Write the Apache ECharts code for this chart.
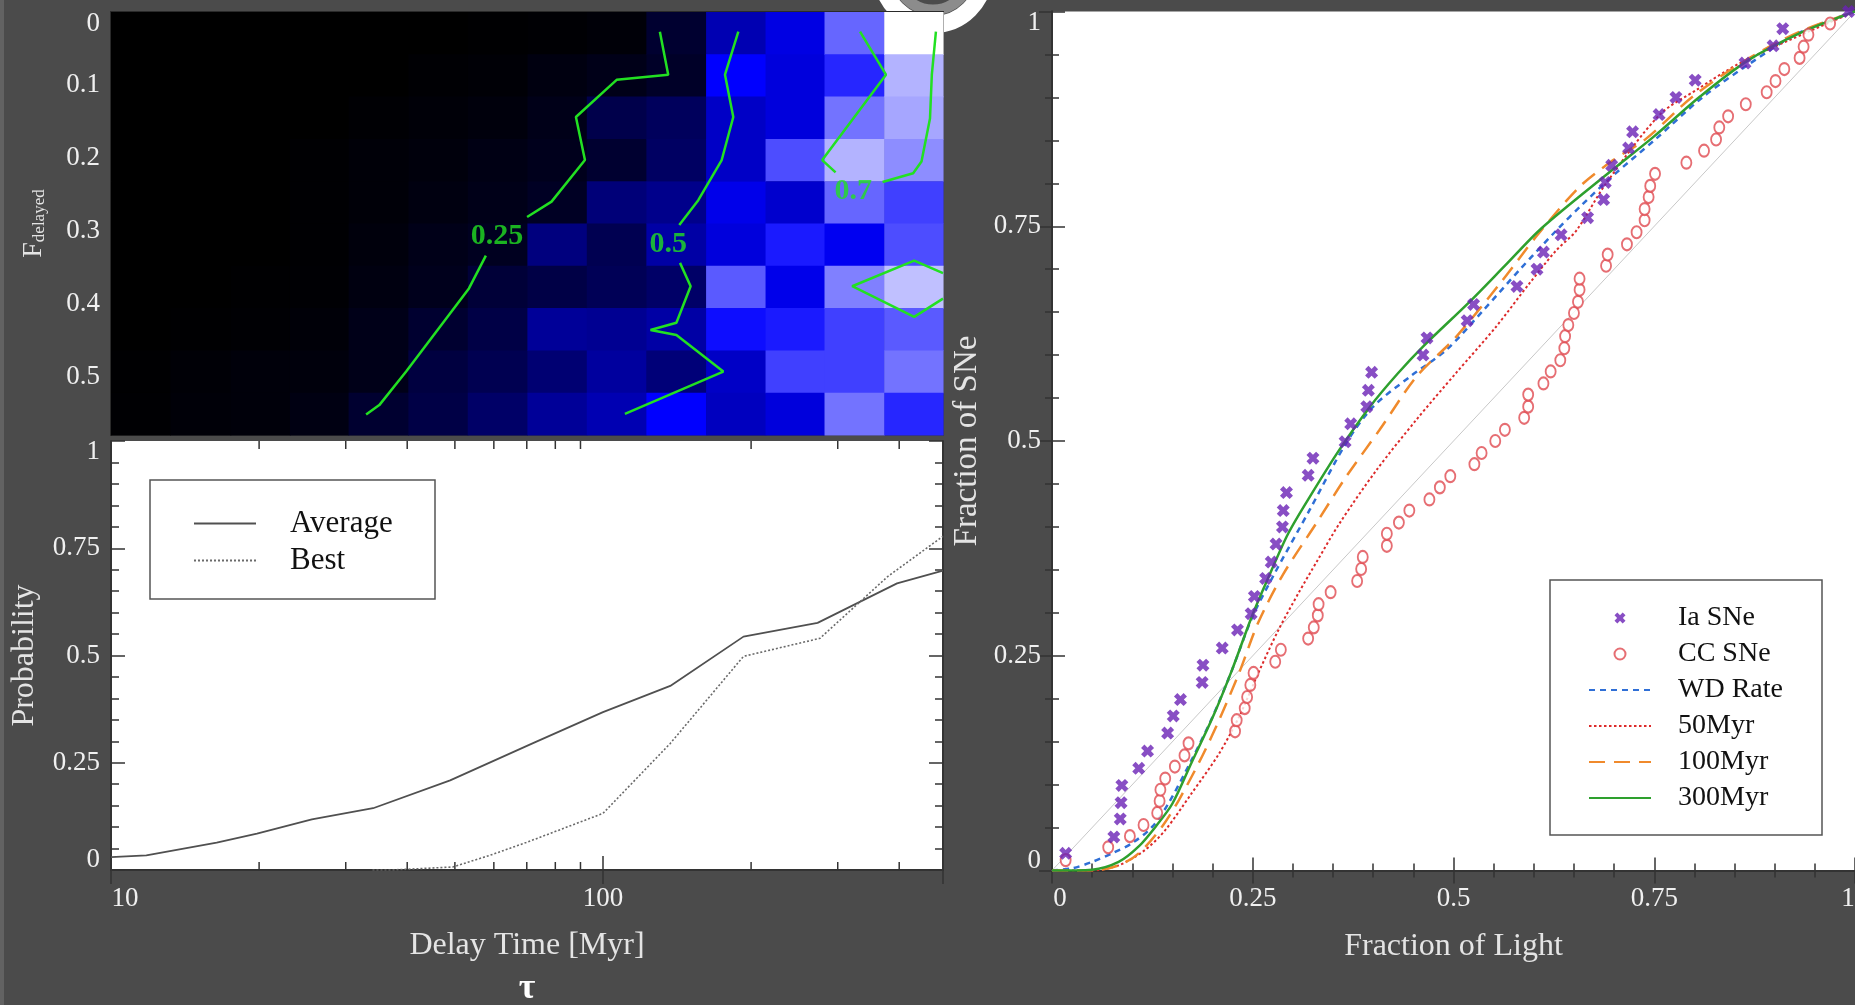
<!DOCTYPE html>
<html>
<head>
<meta charset="utf-8">
<script src="https://cdn.jsdelivr.net/npm/echarts@6/dist/echarts.min.js"></script>
<style>
html, body { margin: 0; padding: 0; background: #4b4b4b; }
#chart { width: 1855px; height: 1005px; }
</style>
</head>
<body>
<div id="chart"></div>
<script>
// ---- heatmap (delay time vs delayed fraction) ----
var tauEdges = [10, 13.2, 17.5, 23.1, 30.4, 40.2, 53.1, 70.2, 92.7, 122.5, 162, 214, 282, 373, 491];
var fEdges = [0, 0.058, 0.116, 0.174, 0.232, 0.29, 0.348, 0.406, 0.464, 0.522, 0.58];
// one array per tau column, rows from F=0 (top) downwards
var cellValues = [
  [0, 0, 0, 0, 0, 0, 0, 0, 0.05, 0.07],
  [0, 0, 0, 0, 0, 0, 0, 0.05, 0.11, 0.12],
  [0, 0, 0, 0, 0, 0, 0.05, 0.10, 0.13, 0.13],
  [0, 0, 0, 0.07, 0.07, 0.07, 0.10, 0.12, 0.14, 0.17],
  [0, 0, 0.10, 0.12, 0.12, 0.14, 0.16, 0.20, 0.20, 0.26],
  [0, 0.10, 0.12, 0.14, 0.16, 0.20, 0.21, 0.26, 0.30, 0.31],
  [0.05, 0.11, 0.14, 0.18, 0.20, 0.22, 0.28, 0.31, 0.33, 0.37],
  [0.10, 0.16, 0.20, 0.21, 0.23, 0.41, 0.31, 0.45, 0.39, 0.45],
  [0.12, 0.20, 0.32, 0.26, 0.40, 0.33, 0.34, 0.44, 0.46, 0.49],
  [0.26, 0.24, 0.35, 0.36, 0.43, 0.47, 0.37, 0.47, 0.40, 0.60],
  [0.49, 0.60, 0.52, 0.52, 0.57, 0.55, 0.67, 0.61, 0.52, 0.51],
  [0.56, 0.55, 0.55, 0.66, 0.53, 0.62, 0.57, 0.62, 0.65, 0.55],
  [0.68, 0.63, 0.69, 0.74, 0.68, 0.58, 0.70, 0.65, 0.65, 0.69],
  [0.80, 0.74, 0.73, 0.71, 0.65, 0.66, 0.75, 0.67, 0.69, 0.63]
];
var fTicks = [0, 0.1, 0.2, 0.3, 0.4, 0.5];

// contour pieces [tau, F]
var contour25 = [
  [[130.5, 0.027], [135.7, 0.086], [106.6, 0.093], [88.1, 0.144], [91.9, 0.203], [78.6, 0.260], [70.1, 0.281]],
  [[57.8, 0.334], [53.4, 0.379], [39.8, 0.493], [35.1, 0.539], [33.0, 0.552]]
];
var contour50 = [
  [[188.4, 0.027], [177.0, 0.086], [184.0, 0.144], [174.3, 0.203], [156.2, 0.258], [142.9, 0.292]],
  [[143.4, 0.344], [150.7, 0.376], [141.0, 0.426], [124.9, 0.436], [141.0, 0.443], [175.6, 0.493], [110.8, 0.551]]
];
var contour70 = [
  [[333, 0.027], [376, 0.086], [279, 0.203], [297, 0.220]],
  [[370, 0.233], [427, 0.221], [444, 0.205], [462, 0.146], [466, 0.086], [475, 0.027]],
  [[491, 0.358], [429, 0.341], [321, 0.376], [429, 0.418], [491, 0.393]]
];
var contourLabels = [['0.25', 60.9, 0.308], ['0.5', 135.7, 0.319], ['0.7', 322.7, 0.246]];

// ---- probability vs delay time ----
var averageProb = [[10, 0.03], [11.8, 0.034], [16.4, 0.064], [19.8, 0.085], [25.6, 0.118], [34.1, 0.144],
  [48.9, 0.209], [71.9, 0.295], [100, 0.368], [137, 0.429], [193, 0.544], [273, 0.576], [396, 0.668], [491, 0.698]];
var bestProb = [[34, 0], [37.2, 0], [49.5, 0.007], [58.8, 0.034], [69.8, 0.064], [100, 0.132], [137, 0.295],
  [193, 0.498], [276, 0.54], [379, 0.684], [491, 0.778]];
var minorTau = [20, 30, 40, 50, 60, 70, 80, 90, 200, 300, 400];

// ---- cumulative fraction of SNe vs fraction of light ----
var iaX = [0.017, 0.077, 0.085, 0.086, 0.087, 0.108, 0.119, 0.144, 0.151, 0.160, 0.187, 0.188, 0.212, 0.231, 0.248,
  0.252, 0.266, 0.273, 0.279, 0.287, 0.288, 0.292, 0.319, 0.325, 0.365, 0.372, 0.392, 0.394, 0.398, 0.462,
  0.467, 0.517, 0.525, 0.579, 0.604, 0.612, 0.634, 0.667, 0.687, 0.689, 0.697, 0.718, 0.723, 0.756, 0.777,
  0.801, 0.863, 0.898, 0.910, 0.992];
var iaY = [0.020, 0.039, 0.060, 0.079, 0.099, 0.119, 0.139, 0.160, 0.180, 0.199, 0.219, 0.239, 0.259, 0.280, 0.299,
  0.319, 0.340, 0.359, 0.380, 0.400, 0.419, 0.440, 0.460, 0.480, 0.499, 0.520, 0.540, 0.559, 0.580, 0.600,
  0.620, 0.640, 0.659, 0.680, 0.700, 0.720, 0.740, 0.760, 0.781, 0.801, 0.821, 0.841, 0.860, 0.880, 0.900,
  0.920, 0.940, 0.960, 0.980, 1.000];
var ccX = [0.017, 0.070, 0.097, 0.114, 0.131, 0.134, 0.135, 0.141, 0.153, 0.165, 0.170, 0.228, 0.230, 0.240, 0.243,
  0.247, 0.251, 0.278, 0.285, 0.319, 0.326, 0.331, 0.332, 0.347, 0.380, 0.385, 0.387, 0.417, 0.417, 0.432,
  0.445, 0.470, 0.483, 0.496, 0.526, 0.535, 0.552, 0.564, 0.588, 0.593, 0.593, 0.612, 0.621, 0.633, 0.638,
  0.639, 0.643, 0.650, 0.655, 0.657, 0.657, 0.690, 0.692, 0.716, 0.728, 0.738, 0.738, 0.743, 0.745, 0.751,
  0.790, 0.812, 0.827, 0.831, 0.842, 0.864, 0.890, 0.901, 0.912, 0.931, 0.936, 0.942, 0.969];
var ccY = [0.012, 0.027, 0.040, 0.053, 0.067, 0.081, 0.094, 0.107, 0.121, 0.134, 0.148, 0.162, 0.175, 0.189, 0.202,
  0.216, 0.230, 0.243, 0.257, 0.270, 0.283, 0.297, 0.310, 0.324, 0.337, 0.351, 0.365, 0.378, 0.392, 0.405,
  0.419, 0.432, 0.446, 0.459, 0.473, 0.486, 0.500, 0.513, 0.527, 0.540, 0.554, 0.567, 0.581, 0.594, 0.608,
  0.622, 0.635, 0.649, 0.662, 0.676, 0.689, 0.704, 0.717, 0.729, 0.743, 0.757, 0.770, 0.784, 0.797, 0.811,
  0.824, 0.838, 0.851, 0.865, 0.878, 0.892, 0.906, 0.919, 0.933, 0.946, 0.959, 0.973, 0.986];
var wdRate = [[0, 0], [0.025, 0.0025], [0.05, 0.01], [0.075, 0.02], [0.1, 0.032], [0.125, 0.051], [0.145, 0.078],
  [0.174, 0.129], [0.2, 0.179], [0.224, 0.233], [0.249, 0.294], [0.275, 0.342], [0.321, 0.42], [0.366, 0.497],
  [0.4, 0.54], [0.446, 0.575], [0.491, 0.606], [0.537, 0.652], [0.583, 0.7], [0.628, 0.745], [0.66, 0.775],
  [0.7, 0.81], [0.75, 0.85], [0.81, 0.9], [0.87, 0.94], [0.93, 0.975], [1, 1]];
var myr50 = [[0, 0], [0.05, 0], [0.083, 0.006], [0.116, 0.024], [0.141, 0.047], [0.174, 0.09], [0.208, 0.136],
  [0.233, 0.179], [0.257, 0.23], [0.282, 0.28], [0.307, 0.323], [0.33, 0.36], [0.358, 0.404], [0.404, 0.466],
  [0.454, 0.525], [0.503, 0.579], [0.553, 0.633], [0.595, 0.684], [0.628, 0.722], [0.653, 0.745], [0.69, 0.8],
  [0.757, 0.88], [0.803, 0.909], [0.857, 0.94], [0.948, 0.979], [1, 1]];
var myr100 = [[0, 0], [0.05, 0], [0.083, 0.006], [0.108, 0.02], [0.137, 0.051], [0.158, 0.082], [0.187, 0.133],
  [0.208, 0.175], [0.233, 0.23], [0.257, 0.289], [0.288, 0.345], [0.329, 0.404], [0.366, 0.458], [0.408, 0.513],
  [0.454, 0.575], [0.503, 0.621], [0.561, 0.687], [0.603, 0.738], [0.657, 0.796], [0.699, 0.827], [0.74, 0.852],
  [0.798, 0.901], [0.865, 0.944], [0.93, 0.976], [1, 1]];
var myr300 = [[0, 0], [0.05, 0.001], [0.083, 0.01], [0.108, 0.028], [0.129, 0.051], [0.15, 0.078], [0.174, 0.126],
  [0.2, 0.178], [0.224, 0.233], [0.249, 0.296], [0.269, 0.34], [0.294, 0.392], [0.321, 0.435], [0.358, 0.49],
  [0.396, 0.54], [0.43, 0.578], [0.462, 0.61], [0.52, 0.662], [0.565, 0.705], [0.61, 0.748], [0.693, 0.812],
  [0.749, 0.854], [0.807, 0.901], [0.865, 0.942], [0.932, 0.975], [1, 1]];
var diagonal = [[0, 0], [1, 1]];

var FONT = "'Liberation Serif', 'DejaVu Serif', serif";
var AX = '#333333';
var LBL = '#f0f0f0';
var TTL = '#e4e4e4';
var GREEN = '#22e022';
var XMARK = 'path://M0,2.6L2.6,0L5,2.4L7.4,0L10,2.6L7.6,5L10,7.4L7.4,10L5,7.6L2.6,10L0,7.4L2.4,5Z';

var chart = echarts.init(document.getElementById('chart'));

// heatmap cells: [tau0, tau1, f0, f1, value]
var cells = [];
for (var c = 0; c < cellValues.length; c++) {
  for (var r = 0; r < cellValues[c].length; r++) {
    cells.push([tauEdges[c], tauEdges[c + 1], fEdges[r], fEdges[r + 1], cellValues[c][r]]);
  }
}

function tk(size) { return { fontFamily: FONT, fontSize: size || 27, color: LBL }; }
function rt(pad) { var s = tk(); s.padding = pad; return s; }

var tickLine = { color: AX, width: 1.5 };
var frameLine = { show: true, lineStyle: { color: AX, width: 2 } };

function valueAxis(grid, pos, showLabel, fmt) {
  return {
    type: 'value', gridIndex: grid, position: pos, min: 0, max: 1, interval: 0.25,
    axisLine: frameLine,
    axisTick: { show: true, inside: true, length: 13, lineStyle: tickLine },
    minorTick: { show: true, splitNumber: 5, length: 7, lineStyle: tickLine },
    splitLine: { show: false }, minorSplitLine: { show: false },
    axisLabel: showLabel ? { show: true, margin: 12, formatter: fmt,
      rich: { n: tk(), a: rt([22, 0, 0, 0]), b: rt([0, 0, 20, 0]), l: rt([0, 0, 0, 16]), r: rt([0, 14, 0, 0]) } } : { show: false }
  };
}

var series = [];
series.push({
  type: 'custom', xAxisIndex: 0, yAxisIndex: 0, data: cells, encode: { x: [0, 1], y: [2, 3] }, silent: true,
  renderItem: function (params, api) {
    var p0 = api.coord([api.value(0), api.value(2)]);
    var p1 = api.coord([api.value(1), api.value(3)]);
    return {
      type: 'rect',
      shape: { x: Math.min(p0[0], p1[0]), y: Math.min(p0[1], p1[1]),
        width: Math.abs(p1[0] - p0[0]) + 0.6, height: Math.abs(p1[1] - p0[1]) + 0.6 },
      style: { fill: api.visual('color') }
    };
  }
});
[contour25, contour50, contour70].forEach(function (pieces) {
  pieces.forEach(function (seg) {
    series.push({ type: 'line', xAxisIndex: 0, yAxisIndex: 0, data: seg, symbol: 'none', silent: true, z: 4,
      lineStyle: { color: GREEN, width: 2.5 } });
  });
});
series.push({
  type: 'scatter', xAxisIndex: 0, yAxisIndex: 0, symbolSize: 1, silent: true, z: 5,
  itemStyle: { color: 'rgba(0,0,0,0)' },
  data: contourLabels.map(function (d) { return { value: [d[1], d[2]], name: d[0] }; }),
  label: { show: true, position: 'inside', formatter: '{b}', color: GREEN, fontFamily: FONT,
    fontSize: 30, fontWeight: 'bold' }
});

// probability panel
series.push({ name: 'Average', type: 'line', xAxisIndex: 1, yAxisIndex: 1, data: averageProb, symbol: 'none',
  lineStyle: { color: '#505050', width: 1.8 }, itemStyle: { color: '#505050' } });
series.push({ name: 'Best', type: 'line', xAxisIndex: 1, yAxisIndex: 1, data: bestProb, symbol: 'none',
  lineStyle: { color: '#6a6a6a', width: 1.6, type: [2, 2] }, itemStyle: { color: '#6a6a6a' } });
series.push({
  type: 'custom', xAxisIndex: 1, yAxisIndex: 1, silent: true, clip: false, z: 6,
  data: minorTau.map(function (v) { return [v, 0]; }), encode: { x: 0, y: 1 },
  renderItem: function (params, api) {
    var b = api.coord([api.value(0), 0]);
    var t = api.coord([api.value(0), 1]);
    return { type: 'group', children: [
      { type: 'line', shape: { x1: b[0], y1: b[1], x2: b[0], y2: b[1] - 8 }, style: { stroke: AX, lineWidth: 1.5 } },
      { type: 'line', shape: { x1: t[0], y1: t[1], x2: t[0], y2: t[1] + 8 }, style: { stroke: AX, lineWidth: 1.5 } }
    ] };
  }
});

// SN panel
series.push({ type: 'line', xAxisIndex: 3, yAxisIndex: 3, data: diagonal, symbol: 'none', silent: true,
  lineStyle: { color: '#c8c8c8', width: 1 } });
series.push({ name: 'WD Rate', type: 'line', xAxisIndex: 3, yAxisIndex: 3, data: wdRate, symbol: 'none', smooth: 0.3,
  lineStyle: { color: '#2f6fd6', width: 2.5, type: [6, 5] }, itemStyle: { color: '#2f6fd6' } });
series.push({ name: '50Myr', type: 'line', xAxisIndex: 3, yAxisIndex: 3, data: myr50, symbol: 'none', smooth: 0.3,
  lineStyle: { color: '#dd2a2a', width: 2, type: [2.5, 2.5] }, itemStyle: { color: '#dd2a2a' } });
series.push({ name: '100Myr', type: 'line', xAxisIndex: 3, yAxisIndex: 3, data: myr100, symbol: 'none', smooth: 0.3,
  lineStyle: { color: '#f08a2c', width: 2.5, type: [16, 9] }, itemStyle: { color: '#f08a2c' } });
series.push({ name: '300Myr', type: 'line', xAxisIndex: 3, yAxisIndex: 3, data: myr300, symbol: 'none', smooth: 0.3,
  lineStyle: { color: '#2ea02e', width: 2.5 }, itemStyle: { color: '#2ea02e' } });
series.push({ name: 'CC SNe', type: 'scatter', xAxisIndex: 3, yAxisIndex: 3, symbol: 'emptyCircle', symbolSize: [10, 12],
  data: ccX.map(function (x, i) { return [x, ccY[i]]; }),
  itemStyle: { color: '#e04a50', borderWidth: 1.3 }, z: 6 });
series.push({ name: 'Ia SNe', type: 'scatter', xAxisIndex: 3, yAxisIndex: 3, symbol: XMARK, symbolSize: 13,
  data: iaX.map(function (x, i) { return [x, iaY[i]]; }),
  itemStyle: { color: '#6a22b5' }, z: 7 });

var hideDot = { opacity: 0 };

var option = {
  backgroundColor: '#4b4b4b',
  animation: false,
  grid: [
    { left: 111, top: 12, width: 832, height: 423, outerBoundsMode: 'none', show: true, backgroundColor: '#000', borderColor: '#3a3a3a', borderWidth: 2 },
    { left: 111, top: 441, width: 832, height: 429, outerBoundsMode: 'none', show: true, backgroundColor: '#fff', borderWidth: 0 },
    { left: 1052, top: 11.5, width: 803, height: 859, outerBoundsMode: 'none', show: true, backgroundColor: '#fff', borderWidth: 0 }
  ],
  visualMap: {
    type: 'continuous', show: false, seriesIndex: 0, dimension: 4, min: 0, max: 0.8,
    inRange: { color: ['#000000', '#000004', '#000018', '#000040', '#000078', '#0000b8', '#0000ff', '#8080ff', '#ffffff'] }
  },
  xAxis: [
    { type: 'log', gridIndex: 0, min: 10, max: 491, axisLine: { show: true, lineStyle: { color: '#2a2a2a', width: 2 } },
      axisTick: { show: false }, axisLabel: { show: false }, splitLine: { show: false } },
    { type: 'log', gridIndex: 1, position: 'bottom', min: 10, max: 491, axisLine: frameLine,
      axisTick: { show: true, inside: true, length: 14, lineStyle: tickLine }, splitLine: { show: false },
      axisLabel: { margin: 15, showMaxLabel: false,
        formatter: function (v) { return Math.round(v) === 10 ? '{l|10}' : '{n|' + Math.round(v) + '}'; },
        rich: { n: tk(), l: rt([0, 0, 0, 28]) } },
      name: '{a|Delay Time [Myr]}\n{b|τ}', nameLocation: 'middle', nameGap: 58,
      nameTextStyle: { rich: {
        a: { fontFamily: FONT, fontSize: 32, lineHeight: 36, color: TTL },
        b: { fontFamily: FONT, fontSize: 36, fontWeight: 'bold', lineHeight: 50, color: '#ffffff' } } } },
    { type: 'log', gridIndex: 1, position: 'top', min: 10, max: 491, axisLine: frameLine,
      axisTick: { show: true, inside: true, length: 14, lineStyle: tickLine }, axisLabel: { show: false }, splitLine: { show: false } },
    (function () {
      var a = valueAxis(2, 'bottom', true, function (v) { return v === 0 ? '{l|0}' : (v === 1 ? '{r|1}' : '{n|' + v + '}'); });
      a.axisLabel.margin = 15;
      a.name = '{a|Fraction of Light}'; a.nameLocation = 'middle'; a.nameGap = 58;
      a.nameTextStyle = { rich: { a: { fontFamily: FONT, fontSize: 32, lineHeight: 36, color: TTL } } };
      return a;
    })(),
    valueAxis(2, 'top', false)
  ],
  yAxis: [
    { type: 'value', gridIndex: 0, min: 0, max: 0.58, inverse: true,
      axisLine: { show: true, lineStyle: { color: '#2a2a2a', width: 2 } }, axisTick: { show: false }, splitLine: { show: false },
      axisLabel: { margin: 11, customValues: fTicks,
        formatter: function (v) { return v === 0 ? '{a|0}' : '{n|' + v + '}'; },
        rich: { n: tk(), a: rt([24, 0, 0, 0]) } },
      name: '{f|F}{d|delayed}', nameLocation: 'middle', nameRotate: 90, nameGap: 63,
      nameTextStyle: { rich: {
        f: { fontFamily: FONT, fontSize: 28, lineHeight: 32, color: TTL, verticalAlign: 'bottom' },
        d: { fontFamily: FONT, fontSize: 17, lineHeight: 32, color: TTL, verticalAlign: 'bottom' } } } },
    (function () {
      var a = valueAxis(1, 'left', true, function (v) { return v === 1 ? '{a|1}' : (v === 0 ? '{b|0}' : '{n|' + v + '}'); });
      a.axisLabel.margin = 11;
      a.axisTick.length = 14; a.minorTick.length = 8;
      a.name = 'Probability'; a.nameLocation = 'middle'; a.nameRotate = 90; a.nameGap = 68;
      a.nameTextStyle = { fontFamily: FONT, fontSize: 32, lineHeight: 36, color: TTL };
      return a;
    })(),
    (function () { var a = valueAxis(1, 'right', false); a.axisTick.length = 14; a.minorTick.length = 8; return a; })(),
    (function () {
      var a = valueAxis(2, 'left', true, function (v) { return v === 1 ? '{a|1}' : (v === 0 ? '{b|0}' : '{n|' + v + '}'); });
      a.axisLabel.margin = 11;
      a.name = 'Fraction of SNe'; a.nameLocation = 'middle'; a.nameRotate = 90; a.nameGap = 66;
      a.nameTextStyle = { fontFamily: FONT, fontSize: 33, lineHeight: 38, color: TTL };
      return a;
    })(),
    valueAxis(2, 'right', false)
  ],
  legend: [
    { orient: 'vertical', left: 188, top: 503, itemWidth: 62, itemHeight: 14, itemGap: 6, selectedMode: false, z: 6,
      data: [{ name: 'Average', itemStyle: hideDot }, { name: 'Best', itemStyle: hideDot }], formatter: '{t|{name}}',
      textStyle: { rich: { t: { fontFamily: FONT, fontSize: 31, lineHeight: 33, color: '#111', padding: [0, 0, 0, 29] } } } },
    { orient: 'vertical', left: 1583, top: 599, itemWidth: 62, itemHeight: 11, itemGap: 8, selectedMode: false, z: 6,
      data: ['Ia SNe', 'CC SNe',
        { name: 'WD Rate', itemStyle: hideDot }, { name: '50Myr', itemStyle: hideDot },
        { name: '100Myr', itemStyle: hideDot }, { name: '300Myr', itemStyle: hideDot }],
      formatter: '{t|{name}}',
      textStyle: { rich: { t: { fontFamily: FONT, fontSize: 28, lineHeight: 30, color: '#111', padding: [0, 0, 0, 22] } } } }
  ],
  graphic: [
    { type: 'rect', shape: { x: 0, y: 0, width: 4, height: 1005 }, style: { fill: '#626262' }, z: -1 },
    { type: 'circle', shape: { cx: 933, cy: -27, r: 51.5 }, style: { fill: 'none', stroke: '#ffffff', lineWidth: 17 }, z: -1 },
    { type: 'circle', shape: { cx: 933, cy: -27, r: 37 }, style: { fill: 'none', stroke: '#8c8c8c', lineWidth: 11 }, z: -1 },
    { type: 'rect', shape: { x: 150, y: 480, width: 285, height: 119 }, style: { fill: '#ffffff', stroke: '#555', lineWidth: 1.5 }, z: 3 },
    { type: 'rect', shape: { x: 1550, y: 580, width: 272, height: 255 }, style: { fill: '#ffffff', stroke: '#555', lineWidth: 1.5 }, z: 3 }
  ],
  series: series
};

chart.setOption(option);
</script>
</body>
</html>
